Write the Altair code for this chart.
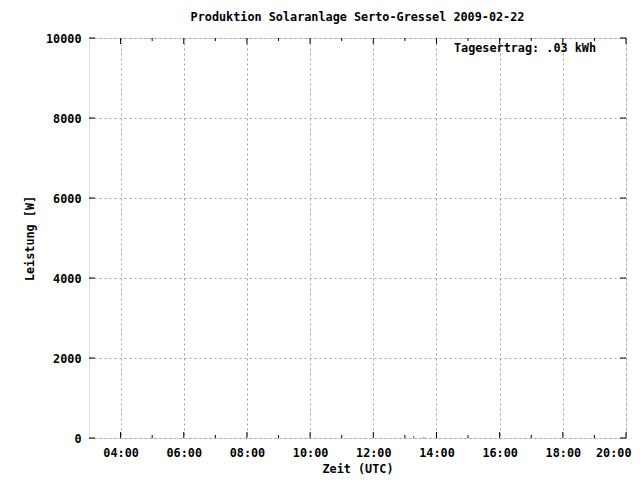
import altair as alt
import pandas as pd

# data
hours = [13.28, 13.60]
power = [50, 25]
x_major = [4, 6, 8, 10, 12, 14, 16, 18, 20]
x_minor = [5, 7, 9, 11, 13, 15, 17, 19]
y_major = [0, 2000, 4000, 6000, 8000, 10000]
title_text = "Produktion Solaranlage Serto-Gressel 2009-02-22"
note_text = "Tagesertrag: .03 kWh"

FONT = "DejaVu Sans Mono"
FS = 11.8
W, H = 537, 400

xs = alt.Scale(domain=[3, 20], nice=False, zero=False)
ys = alt.Scale(domain=[0, 10000], nice=False)

df = pd.DataFrame({"h": hours, "p": power})
dmaj = pd.DataFrame({"h": x_major})
dmin = pd.DataFrame({"h": x_minor})
dy = pd.DataFrame({"v": y_major})

base_x_axis = alt.Axis(
    values=x_major,
    labelExpr="(datum.value < 10 ? '0' : '') + datum.value + ':00'",
    labelFlush=True, labelFlushOffset=5, labelOverlap=False,
    grid=True, gridDash=[2, 3], gridColor="#a0a0a0", gridWidth=1,
    tickSize=0, labelPadding=9, domain=False,
    labelFont=FONT, labelFontWeight="bold", labelFontSize=FS, labelColor="black",
    title="Zeit (UTC)", titleFont=FONT, titleFontWeight="bold", titleFontSize=FS,
    titlePadding=5, titleColor="black",
)
base_y_axis = alt.Axis(
    values=y_major, format="d", labelFlush=False,
    grid=True, gridDash=[2, 3], gridColor="#a0a0a0", gridWidth=1,
    tickSize=0, labelPadding=8, domain=False,
    labelFont=FONT, labelFontWeight="bold", labelFontSize=FS, labelColor="black",
    title="Leistung [W]", titleFont=FONT, titleFontWeight="bold", titleFontSize=FS,
    titlePadding=10, titleColor="black",
)

data_layer = alt.Chart(df).mark_rule(color="red", strokeWidth=1).encode(
    x=alt.X("h:Q", scale=xs, axis=base_x_axis),
    y=alt.Y("p:Q", scale=ys, axis=base_y_axis),
    y2=alt.datum(0),
)

maj_bot = alt.Chart(dmaj).mark_rule(color="black").encode(
    x=alt.X("h:Q", scale=xs), y=alt.value(H), y2=alt.value(H - 6))
maj_top = alt.Chart(dmaj).mark_rule(color="black").encode(
    x=alt.X("h:Q", scale=xs), y=alt.value(0), y2=alt.value(6))
min_bot = alt.Chart(dmin).mark_rule(color="black").encode(
    x=alt.X("h:Q", scale=xs), y=alt.value(H), y2=alt.value(H - 3))
min_top = alt.Chart(dmin).mark_rule(color="black").encode(
    x=alt.X("h:Q", scale=xs), y=alt.value(0), y2=alt.value(3))
y_left = alt.Chart(dy).mark_rule(color="black").encode(
    y=alt.Y("v:Q", scale=ys), x=alt.value(0), x2=alt.value(6))
y_right = alt.Chart(dy).mark_rule(color="black").encode(
    y=alt.Y("v:Q", scale=ys), x=alt.value(W), x2=alt.value(W - 6))

note = alt.Chart(pd.DataFrame({"t": [note_text]})).mark_text(
    font=FONT, fontWeight="bold", fontSize=FS, align="right", baseline="middle",
    color="black",
).encode(text="t:N", x=alt.value(507), y=alt.value(10))

chart = alt.layer(
    data_layer, maj_bot, maj_top, min_bot, min_top, y_left, y_right, note
).properties(
    width=W, height=H,
    title=alt.TitleParams(title_text, font=FONT, fontWeight="bold", fontSize=FS,
                          color="black", anchor="middle", offset=9),
    autosize=alt.AutoSizeParams(type="none"),
    padding={"left": 81, "top": 30, "right": 6, "bottom": 38},
).configure_view(stroke="black", strokeWidth=1).configure(background="white")

chart.save("out.html", embed_options={"renderer": "svg", "actions": False})
